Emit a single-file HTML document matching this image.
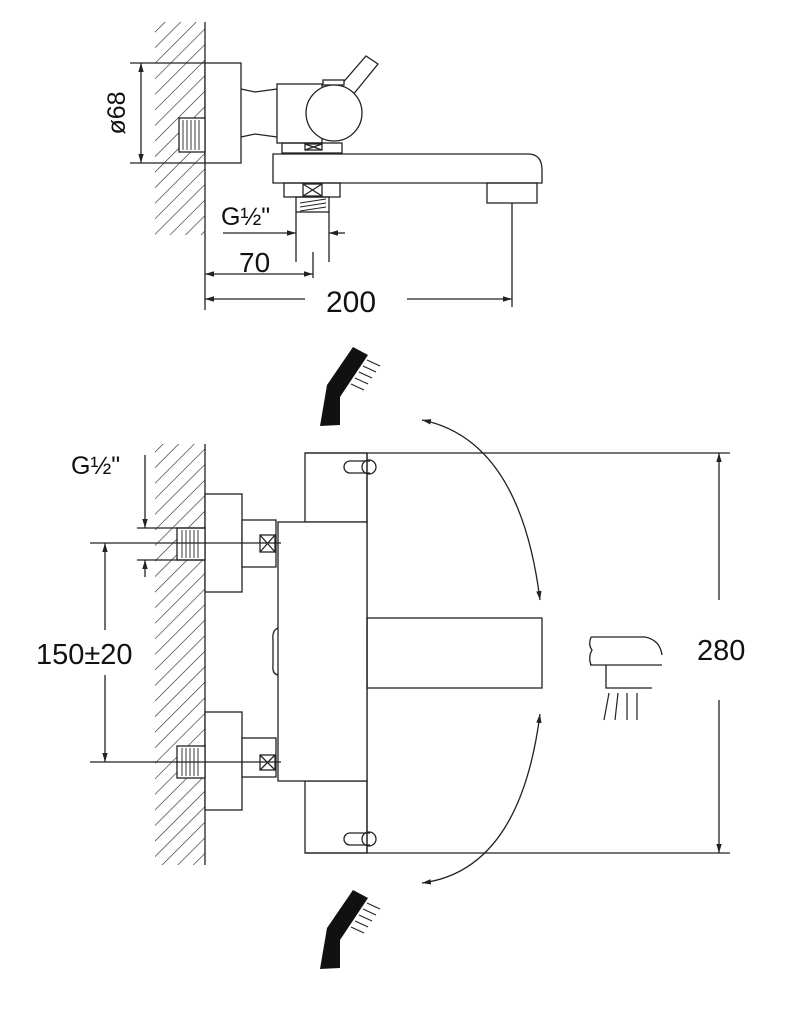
<!DOCTYPE html>
<html><head><meta charset="utf-8"><style>
html,body{margin:0;padding:0;background:#fff;}
svg{display:block;}
text{font-family:"Liberation Sans",sans-serif;fill:#111;}
</style></head><body>
<svg width="809" height="1024" viewBox="0 0 809 1024" xmlns="http://www.w3.org/2000/svg">
<defs>
<pattern id="h" patternUnits="userSpaceOnUse" width="11" height="11" patternTransform="rotate(45)">
<line x1="0" y1="0" x2="0" y2="11" stroke="#222" stroke-width="1.2"/>
</pattern>
<marker id="a" viewBox="0 0 10 10" refX="10" refY="5" markerWidth="9" markerHeight="9" orient="auto-start-reverse" markerUnits="userSpaceOnUse"><path d="M0,2 L10,5 L0,8 z" fill="#222"/></marker>
</defs>
<g fill="none" stroke="#222" stroke-width="1.3">
<!-- TOP VIEW -->
<rect x="155" y="22" width="50" height="213" fill="url(#h)" stroke="none"/>
<line x1="205" y1="22" x2="205" y2="310"/>
<rect x="205" y="63" width="36" height="100" fill="#fff"/>
<rect x="179" y="118" width="26" height="34" fill="#fff"/>
<g stroke-width="0.9"><line x1="183" y1="120" x2="183" y2="150"/><line x1="187" y1="120" x2="187" y2="150"/><line x1="191" y1="120" x2="191" y2="150"/><line x1="195" y1="120" x2="195" y2="150"/><line x1="199" y1="120" x2="199" y2="150"/></g>
<line x1="130" y1="63" x2="205" y2="63"/><line x1="130" y1="163" x2="205" y2="163"/>
<line x1="141" y1="63" x2="141" y2="163" marker-start="url(#a)" marker-end="url(#a)"/>
<path d="M241,89 L255,92 L277,89 M241,137 L255,134 L277,137"/>
<rect x="277" y="84" width="45" height="59" fill="#fff"/>
<path d="M340,86 L366,56 L378,64 L352,96" fill="#fff"/>
<rect x="323" y="80" width="21" height="5" fill="#fff"/>
<circle cx="334" cy="113" r="28" fill="#fff"/>
<rect x="282" y="143" width="60" height="10"/>
<rect x="305" y="144" width="17" height="6"/><path d="M305,144 L322,150 M322,144 L305,150"/>
<path d="M273,154 H528 Q542,154 542,170 V183 H273 Z" fill="#fff"/>
<rect x="487" y="183" width="50" height="20"/>
<rect x="284" y="183" width="56" height="14"/>
<rect x="303" y="184" width="19" height="12"/><path d="M303,184 L322,196 M322,184 L303,196"/>
<rect x="296" y="197" width="33" height="15"/>
<g stroke-width="0.9"><line x1="300" y1="203" x2="326" y2="199"/><line x1="300" y1="207" x2="326" y2="203"/><line x1="300" y1="211" x2="326" y2="207"/></g>
<line x1="296" y1="212" x2="296" y2="262"/><line x1="329" y1="212" x2="329" y2="262"/>
<line x1="223" y1="233" x2="296" y2="233" marker-end="url(#a)"/>
<line x1="345" y1="233" x2="329" y2="233" marker-end="url(#a)"/>
<line x1="313" y1="252" x2="313" y2="278"/>
<line x1="205" y1="274" x2="313" y2="274" marker-start="url(#a)" marker-end="url(#a)"/>
<line x1="512" y1="203" x2="512" y2="307"/>
<line x1="205" y1="299" x2="305" y2="299" marker-start="url(#a)"/>
<line x1="407" y1="299" x2="512" y2="299" marker-end="url(#a)"/>
<!-- BOTTOM VIEW -->
<rect x="155" y="444" width="50" height="421" fill="url(#h)" stroke="none"/>
<line x1="205" y1="444" x2="205" y2="865"/>
<line x1="305" y1="453" x2="730" y2="453"/><line x1="305" y1="853" x2="730" y2="853"/>
<rect x="305" y="453" width="62" height="69"/>
<rect x="305" y="781" width="62" height="72"/>
<line x1="367" y1="453" x2="367" y2="853"/>
<rect x="278" y="522" width="89" height="259" fill="#fff"/>
<path d="M278,628 Q272,630 273,640 V665 Q272,674 278,675"/>
<rect x="367" y="618" width="175" height="70"/>
<path d="M350,461 H370 M350,473 H370 M350,461 A6,6 0 0 0 350,473"/><circle cx="369" cy="467" r="7"/>
<path d="M350,833 H370 M350,845 H370 M350,833 A6,6 0 0 0 350,845"/><circle cx="369" cy="839" r="7"/>
<!-- connectors -->
<rect x="205" y="494" width="37" height="98" fill="#fff"/>
<rect x="242" y="520" width="34" height="47" fill="#fff"/>
<rect x="260" y="535" width="15" height="17"/><path d="M260,535 L275,552 M275,535 L260,552"/>
<rect x="177" y="528" width="28" height="32" fill="#fff"/>
<g stroke-width="0.9"><line x1="182" y1="530" x2="182" y2="558"/><line x1="186" y1="530" x2="186" y2="558"/><line x1="190" y1="530" x2="190" y2="558"/><line x1="194" y1="530" x2="194" y2="558"/><line x1="198" y1="530" x2="198" y2="558"/></g>
<rect x="205" y="712" width="37" height="98" fill="#fff"/>
<rect x="242" y="738" width="34" height="39" fill="#fff"/>
<rect x="260" y="755" width="15" height="15"/><path d="M260,755 L275,770 M275,755 L260,770"/>
<rect x="177" y="746" width="28" height="32" fill="#fff"/>
<g stroke-width="0.9"><line x1="182" y1="748" x2="182" y2="776"/><line x1="186" y1="748" x2="186" y2="776"/><line x1="190" y1="748" x2="190" y2="776"/><line x1="194" y1="748" x2="194" y2="776"/><line x1="198" y1="748" x2="198" y2="776"/></g>
<line x1="90" y1="543" x2="281" y2="543"/><line x1="90" y1="762" x2="281" y2="762"/>
<line x1="137" y1="528" x2="205" y2="528"/><line x1="137" y1="560" x2="205" y2="560"/>
<line x1="145" y1="455" x2="145" y2="528" marker-end="url(#a)"/>
<line x1="145" y1="577" x2="145" y2="560" marker-end="url(#a)"/>
<line x1="105" y1="630" x2="105" y2="543" marker-end="url(#a)"/>
<line x1="105" y1="675" x2="105" y2="762" marker-end="url(#a)"/>
<line x1="719" y1="600" x2="719" y2="453" marker-end="url(#a)"/>
<line x1="719" y1="700" x2="719" y2="853" marker-end="url(#a)"/>
<!-- arcs -->
<path d="M422,420 Q520,440 540,600" marker-start="url(#a)" marker-end="url(#a)"/>
<path d="M540,714 Q520,870 422,883" marker-start="url(#a)" marker-end="url(#a)"/>
<!-- small spout icon -->
<path d="M591,637 H645 Q660,640 662,655 M590,665 H662 M591,637 Q588,645 592,650 Q588,657 591,665"/>
<path d="M606,665 V688 H652"/>
<g stroke-width="1.2"><line x1="609" y1="693" x2="604" y2="720"/><line x1="618" y1="693" x2="615" y2="720"/><line x1="627" y1="693" x2="627" y2="720"/><line x1="637" y1="693" x2="637" y2="720"/></g>
<!-- shower heads -->
<g id="sh">
<path d="M320,426 L327,385 L353,347 L368,355 L340,397 L340,425 Z" fill="#111" stroke="none"/>
<g stroke-width="1"><line x1="367" y1="360" x2="380" y2="366"/><line x1="363" y1="366" x2="376" y2="372"/><line x1="359" y1="372" x2="372" y2="378"/><line x1="355" y1="378" x2="368" y2="384"/><line x1="351" y1="384" x2="364" y2="390"/></g>
</g>
<use href="#sh" transform="translate(0,543)"/>
</g>
<text x="221" y="225" font-size="25">G½"</text>
<text x="239" y="272" font-size="28">70</text>
<text x="326" y="312" font-size="30">200</text>
<text transform="translate(125,113) rotate(-90)" font-size="25" text-anchor="middle">ø68</text>
<text x="71" y="474" font-size="25">G½"</text>
<text x="36" y="664" font-size="29">150±20</text>
<text x="697" y="660" font-size="29">280</text>
</svg>
</body></html>
